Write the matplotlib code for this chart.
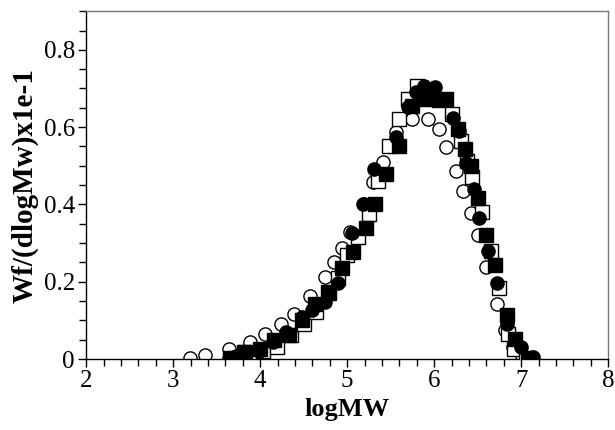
import numpy as np
import matplotlib.pyplot as plt
from matplotlib.ticker import MultipleLocator

plt.rcParams['font.family'] = ['Liberation Serif', 'DejaVu Serif']

# molecular weight distributions, four samples
open_circle_x = [3.19, 3.37, 3.64, 3.88, 4.06, 4.24, 4.39, 4.57, 4.75, 4.85, 4.94, 5.03,
                 5.19, 5.30, 5.41, 5.56, 5.75, 5.93, 6.05, 6.14, 6.25, 6.33, 6.42, 6.50,
                 6.59, 6.72, 6.81, 6.90, 7.01]
open_circle_y = [0.004, 0.011, 0.026, 0.045, 0.064, 0.090, 0.117, 0.163, 0.213, 0.252, 0.287, 0.329,
                 0.402, 0.457, 0.509, 0.587, 0.622, 0.622, 0.596, 0.548, 0.487, 0.435, 0.377, 0.322,
                 0.239, 0.143, 0.074, 0.030, 0.009]

filled_circle_x = [3.64, 3.72, 3.99, 4.15, 4.30, 4.48, 4.60, 4.74, 4.89, 5.05, 5.18, 5.31,
                   5.56, 5.70, 5.79, 5.88, 6.01, 6.13, 6.22, 6.28, 6.37, 6.46, 6.52, 6.62,
                   6.72, 6.84, 7.00, 7.14]
filled_circle_y = [0.004, 0.009, 0.022, 0.045, 0.070, 0.109, 0.128, 0.148, 0.196, 0.326, 0.400, 0.491,
                   0.574, 0.652, 0.691, 0.706, 0.703, 0.670, 0.624, 0.589, 0.507, 0.439, 0.365, 0.280,
                   0.196, 0.091, 0.032, 0.006]

open_square_x = [3.72, 3.83, 4.03, 4.19, 4.35, 4.50, 4.64, 4.78, 4.89, 5.00, 5.12, 5.25,
                 5.36, 5.48, 5.60, 5.70, 5.80, 5.93, 6.06, 6.20, 6.31, 6.38, 6.44, 6.55,
                 6.65, 6.75, 6.85, 6.92, 7.05]
open_square_y = [0.002, 0.017, 0.022, 0.030, 0.061, 0.090, 0.122, 0.174, 0.209, 0.270, 0.317, 0.374,
                 0.461, 0.552, 0.622, 0.674, 0.706, 0.690, 0.670, 0.635, 0.565, 0.513, 0.470, 0.380,
                 0.280, 0.184, 0.065, 0.026, 0.003]

filled_square_x = [3.65, 3.81, 4.00, 4.16, 4.33, 4.48, 4.63, 4.79, 4.94, 5.07, 5.22, 5.32,
                   5.45, 5.59, 5.74, 5.87, 6.01, 6.14, 6.27, 6.35, 6.42, 6.50, 6.60, 6.70,
                   6.84, 6.93, 7.08]
filled_square_y = [0.002, 0.019, 0.026, 0.048, 0.063, 0.100, 0.143, 0.170, 0.235, 0.278, 0.339, 0.400,
                   0.478, 0.550, 0.654, 0.674, 0.674, 0.674, 0.596, 0.543, 0.500, 0.417, 0.322, 0.243,
                   0.113, 0.052, 0.002]

fig = plt.figure(figsize=(6.15, 4.3), dpi=100)
ax = fig.add_axes([0.140, 0.165, 0.849, 0.809])

ms = 9.5
ax.plot(open_circle_x, open_circle_y, 'o', ms=ms, mfc='white', mec='black', mew=1.0, zorder=2)
ax.plot(open_square_x, open_square_y, 's', ms=ms, mfc='white', mec='black', mew=1.0, zorder=3)
ax.plot(filled_circle_x, filled_circle_y, 'o', ms=ms, mfc='black', mec='black', zorder=4)
ax.plot(filled_square_x, filled_square_y, 's', ms=ms, mfc='black', mec='black', zorder=5)

ax.set_xlim(2, 8)
ax.set_ylim(0, 0.9)
ax.xaxis.set_major_locator(MultipleLocator(1))
ax.xaxis.set_minor_locator(MultipleLocator(0.2))
ax.yaxis.set_major_locator(MultipleLocator(0.2))
ax.yaxis.set_minor_locator(MultipleLocator(0.05))
ax.yaxis.set_major_formatter(plt.FuncFormatter(lambda v, p: '0' if v == 0 else f'{v:.1f}'))

ax.tick_params(which='major', direction='out', length=6, width=1, labelsize=18,
               pad=2, top=False, right=False)
ax.tick_params(which='minor', direction='out', length=5, width=1, top=False, right=False)

for side in ['top', 'right']:
    ax.spines[side].set_color('#777777')
    ax.spines[side].set_linewidth(1.0)
for side in ['left', 'bottom']:
    ax.spines[side].set_linewidth(1.0)

ax.set_xlabel('logMW', fontsize=19, fontweight='bold', labelpad=4)
ax.set_ylabel('Wf/(dlogMw)x1e-1', fontsize=21, fontweight='bold', labelpad=4)

fig.savefig('out.png', dpi=100)
